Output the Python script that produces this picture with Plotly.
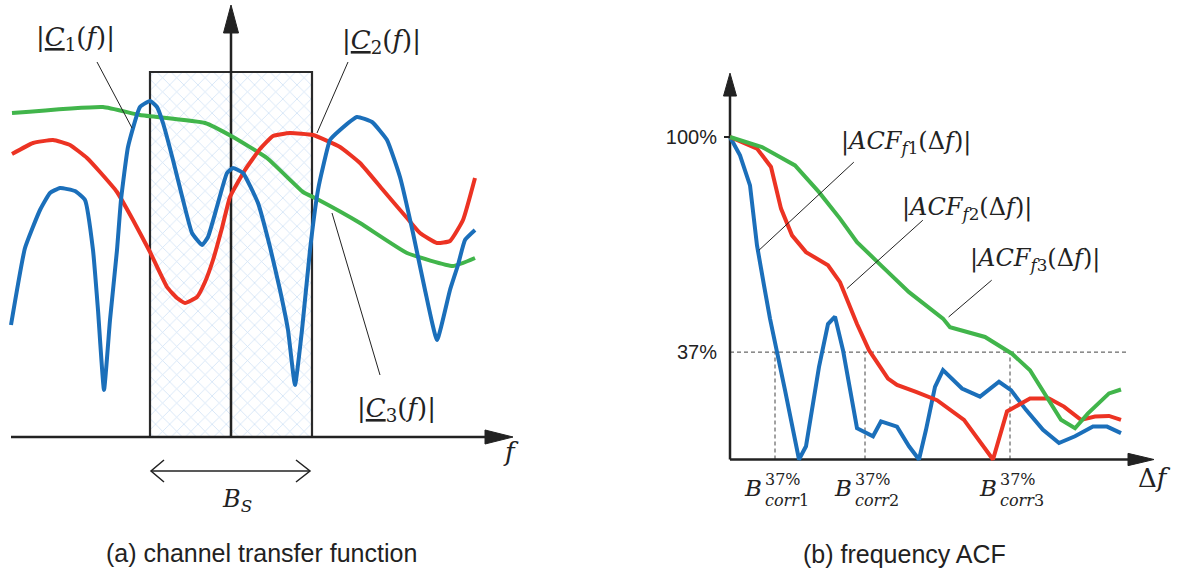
import plotly.graph_objects as go

BLUE = "#1b6fba"
RED = "#ec3323"
GREEN = "#41b54b"
INK = "#222222"
MATH = "DejaVu Serif"
SANS = "Liberation Sans"

# ---------------- (a) channel transfer function ----------------
# f relative to the band centre, magnitude in arbitrary units
c1_f = [-220, -206, -191, -181, -171, -156, -146, -138, -133, -127, -121, -114, -110, -103, -91, -81, -74,
        -68, -58, -48, -39, -29, -23, -13, -4, 2, 12, 27, 39, 49, 57, 64, 71, 79, 87, 92, 99, 109, 126, 141,
        156, 169, 182, 194, 206, 219, 227, 234, 244]
c1_mag = [112, 189, 227, 244, 249, 246, 237, 187, 127, 47, 117, 187, 237, 290, 330, 336, 330, 314, 277, 237,
          204, 192, 200, 234, 264, 269, 264, 234, 190, 147, 107, 52, 107, 187, 247, 270, 297, 307, 320, 315,
          297, 260, 204, 147, 97, 147, 172, 197, 207]
c2_f = [-219, -198, -178, -161, -144, -131, -114, -98, -81, -64, -54, -46, -34, -26, -18, -9, -1, 14, 29, 42,
        59, 82, 109, 129, 152, 176, 189, 206, 219, 232, 244]
c2_mag = [283, 294, 297, 292, 279, 265, 245, 217, 185, 150, 139, 134, 140, 155, 177, 209, 240, 267, 288, 301,
          304, 302, 290, 274, 247, 219, 204, 194, 196, 217, 259]
c3_f = [-219, -128, -91, -26, 2, 36, 72, 86, 129, 176, 222, 244]
c3_mag = [324, 330, 322, 314, 300, 279, 245, 238, 214, 184, 171, 179]
band_half = 81          # half of B_S
band_top = 365

# ---------------- (b) frequency ACF ----------------
a1_df = [0, 10, 20, 27, 34, 40, 55, 69, 76, 89, 98, 105, 113, 127, 143, 151, 167, 179, 189, 196, 205, 213,
         232, 250, 269, 281, 296, 313, 329, 345, 363, 377, 391]
a1_pct = [100, 94.3, 85.0, 66.4, 54.0, 43.7, 21.5, 0, 4.1, 28.7, 42.0, 44.3, 33.9, 9.7, 7.2, 11.8, 10.2, 4.1,
          0, 9.2, 22.5, 27.7, 22.0, 19.5, 24.1, 21.5, 15.4, 9.2, 5.1, 7.2, 10.2, 10.2, 8.2]
a2_df = [0, 27, 41, 51, 62, 76, 98, 110, 127, 139, 158, 167, 186, 207, 234, 246, 263, 277, 300, 319, 334, 351,
         365, 379, 391]
a2_pct = [100, 96.4, 90.7, 77.8, 69.5, 64.3, 60.2, 55.0, 42.0, 33.9, 25.1, 23.1, 21.0, 18.4, 12.3, 7.2, 0,
          14.9, 18.9, 18.9, 16.4, 12.3, 13.3, 13.5, 12.3]
a3_df = [0, 32, 65, 89, 110, 127, 151, 179, 213, 220, 255, 282, 300, 317, 331, 345, 358, 379, 391]
a3_pct = [100, 96.9, 91.2, 82.9, 74.7, 67.4, 60.2, 51.9, 43.7, 41.0, 38.0, 32.8, 27.7, 19.5, 12.3, 9.7, 14.3,
          20.5, 21.7]
level37 = 33.3
b_corr = [45, 135, 280]
b_names = ["corr1", "corr2", "corr3"]
ytick_vals = [level37, 100]
ytick_text = ["37%", "100%"]

fig = go.Figure()

# band rectangle
fig.add_trace(go.Scatter(
    x=[-band_half, band_half, band_half, -band_half, -band_half],
    y=[0, 0, band_top, band_top, 0], mode="lines", fill="toself",
    fillcolor="rgba(0,0,0,0)",
    fillpattern=dict(shape="x", fgcolor="#a4c8ee", bgcolor="white", size=10, solidity=0.16),
    line=dict(color="#2a2a2a", width=2.2), hoverinfo="skip", showlegend=False, xaxis="x", yaxis="y"))

# axis lines (left)
fig.add_trace(go.Scatter(x=[-220, 262], y=[0, 0], mode="lines", line=dict(color=INK, width=2.5),
                         hoverinfo="skip", showlegend=False, xaxis="x", yaxis="y"))
fig.add_trace(go.Scatter(x=[0, 0], y=[0, 412], mode="lines", line=dict(color=INK, width=2.5),
                         hoverinfo="skip", showlegend=False, xaxis="x", yaxis="y"))
# axis lines (right)
fig.add_trace(go.Scatter(x=[0, 405], y=[0, 0], mode="lines", line=dict(color=INK, width=2.5),
                         hoverinfo="skip", showlegend=False, xaxis="x2", yaxis="y2"))
fig.add_trace(go.Scatter(x=[0, 0], y=[0, 115], mode="lines", line=dict(color=INK, width=2.5),
                         hoverinfo="skip", showlegend=False, xaxis="x2", yaxis="y2"))

# curves left
for xs, ys, col in [(c3_f, c3_mag, GREEN), (c2_f, c2_mag, RED), (c1_f, c1_mag, BLUE)]:
    fig.add_trace(go.Scatter(x=xs, y=ys, mode="lines", line=dict(color=col, width=4, shape="spline", smoothing=0.4),
                             hoverinfo="skip", showlegend=False, xaxis="x", yaxis="y"))
# curves right
for xs, ys, col in [(a1_df, a1_pct, BLUE), (a2_df, a2_pct, RED), (a3_df, a3_pct, GREEN)]:
    fig.add_trace(go.Scatter(x=xs, y=ys, mode="lines", line=dict(color=col, width=4),
                             hoverinfo="skip", showlegend=False, xaxis="x2", yaxis="y2"))

shapes = []
# arrowheads
shapes.append(dict(type="path", xref="x", yref="y", path="M -7.5,404 L 0,432 L 7.5,404 Z",
                   fillcolor=INK, line=dict(color=INK, width=1)))
shapes.append(dict(type="path", xref="x", yref="y", path="M 254,7 L 282,0 L 254,-7 Z",
                   fillcolor=INK, line=dict(color=INK, width=1)))
shapes.append(dict(type="path", xref="x2", yref="y2", path="M -6.5,112.7 L 0,119.8 L 6.5,112.7 Z",
                   fillcolor=INK, line=dict(color=INK, width=1)))
shapes.append(dict(type="path", xref="x2", yref="y2", path="M 398,1.9 L 424,0 L 398,-1.9 Z",
                   fillcolor=INK, line=dict(color=INK, width=1)))
# 100% tick
shapes.append(dict(type="line", xref="x2", yref="y2", x0=-6, x1=0, y0=100, y1=100,
                   line=dict(color=INK, width=2)))
# B_S double arrow
bs_y = -34
shapes.append(dict(type="line", xref="x", yref="y", x0=-band_half + 1, x1=band_half - 2, y0=bs_y, y1=bs_y,
                   line=dict(color=INK, width=1.5)))
shapes.append(dict(type="path", xref="x", yref="y",
                   path=f"M {-band_half+14},{bs_y+11} L {-band_half+1},{bs_y} L {-band_half+14},{bs_y-11}",
                   line=dict(color=INK, width=1.5)))
shapes.append(dict(type="path", xref="x", yref="y",
                   path=f"M {band_half-16},{bs_y+11} L {band_half-2},{bs_y} L {band_half-16},{bs_y-11}",
                   line=dict(color=INK, width=1.5)))
# dashed guides
shapes.append(dict(type="line", xref="x2", yref="y2", x0=0, x1=398, y0=level37, y1=level37, layer="below",
                   line=dict(color="#444", width=1, dash="4px,3px")))
for b in b_corr:
    shapes.append(dict(type="line", xref="x2", yref="y2", x0=b, x1=b, y0=0, y1=level37, layer="below",
                       line=dict(color="#444", width=1, dash="4px,3px")))
# leader lines
for (xa, ya, xb, yb, r) in [(-134, 375, -99, 309, ""), (117, 375, 86, 304, ""), (101, 224, 149, 62, ""),
                            (123.8, 92.2, 29, 64.9, "2"), (192.8, 74.2, 116.9, 53.0, "2"),
                            (261.7, 55.6, 218.6, 44.2, "2")]:
    shapes.append(dict(type="line", xref="x" + r, yref="y" + r, x0=xa, y0=ya, x1=xb, y1=yb,
                       line=dict(color=INK, width=1)))

ann = []
def lab(x, y, text, ref="", size=24, font=MATH, xanchor="center", xshift=0, align="center",
        yanchor="middle", yshift=0):
    ann.append(dict(x=x, y=y, xref="x" + ref, yref="y" + ref, text=text, showarrow=False,
                    xanchor=xanchor, yanchor=yanchor, xshift=xshift, yshift=yshift, align=align,
                    borderpad=0, font=dict(family=font, size=size, color=INK)))

lab(-156, 399, "|<u><i>C</i></u><sub>1</sub>(<i>f</i>)|", size=26)
lab(150, 396, "|<u><i>C</i></u><sub>2</sub>(<i>f</i>)|", size=26)
lab(165, 28, "|<u><i>C</i></u><sub>3</sub>(<i>f</i>)|", size=26)
lab(6, -63, "<i>B</i><sub><i>S</i></sub>")
lab(280, -15, "<i>f</i>", size=26)
lab(30, -116, "(a) channel transfer function", size=25, font=SANS)

lab(176, 98.4, "|<i>ACF</i><sub><i>f</i>1</sub>(Δ<i>f</i>)|", "2")
lab(236.6, 77.8, "|<i>ACF</i><sub><i>f</i>2</sub>(Δ<i>f</i>)|", "2")
lab(304.5, 61.9, "|<i>ACF</i><sub><i>f</i>3</sub>(Δ<i>f</i>)|", "2")
lab(424, -5.7, "Δ<i>f</i>", "2", size=26)
lab(174, -29.2, "(b) frequency ACF", "2", size=25, font=SANS)
for b, nm in zip(b_corr, b_names):
    lab(b, -8.8, "<i>B</i>", "2", size=23, xanchor="right", xshift=-12)
    lab(b, -8.8, "37%", "2", size=16, xanchor="left", xshift=-11, yanchor="bottom", yshift=-2)
    lab(b, -8.8, f"<i>{nm[:-1]}</i>{nm[-1]}", "2", size=16, xanchor="left", xshift=-11,
        yanchor="top", yshift=-2)

W, H = 1179, 570
split = 0.5
fig.update_layout(
    width=W, height=H, margin=dict(l=0, r=0, t=0, b=0), autosize=False,
    paper_bgcolor="white", plot_bgcolor="rgba(0,0,0,0)", showlegend=False,
    shapes=shapes, annotations=ann,
    xaxis=dict(domain=[0, split], range=[-231, -231 + W * split], visible=False, fixedrange=True),
    yaxis=dict(domain=[0, 1], range=[-133, 437], visible=False, fixedrange=True),
    xaxis2=dict(domain=[split, 1], range=[W * split - 730, W - 730], visible=False, fixedrange=True),
    yaxis2=dict(domain=[0, 1], range=[(459.5 - H) / 3.225, 459.5 / 3.225], anchor="free",
                position=730 / W, showgrid=False, zeroline=False, showline=False,
                tickvals=ytick_vals, ticktext=ytick_text, ticks="outside", ticklen=9,
                tickcolor="rgba(0,0,0,0)", tickfont=dict(family=SANS, size=20, color=INK),
                fixedrange=True),
)
fig.write_html("out.html")
